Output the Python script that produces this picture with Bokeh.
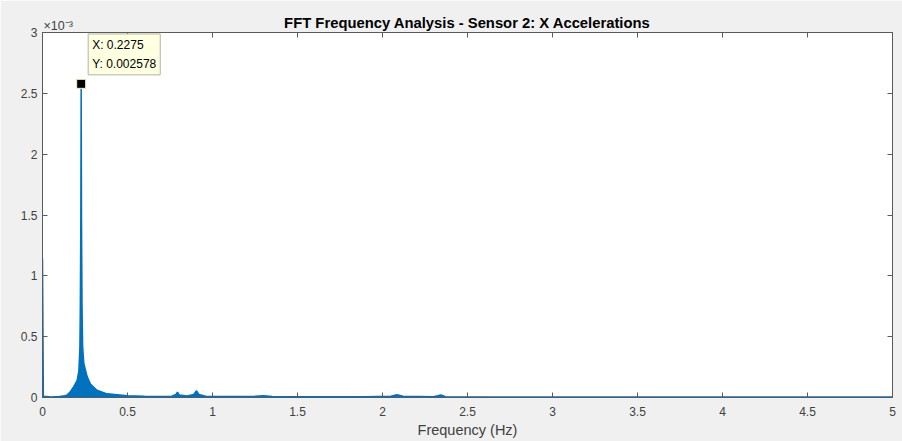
from bokeh.plotting import figure
from bokeh.models import Range1d, LinearAxis, FixedTicker, CustomJSTickFormatter, Label
from bokeh.embed import file_html
from bokeh.resources import INLINE

# Single-sided amplitude spectrum envelope (Hz, g) for sensor 2, X axis
freq_hz = [0.0, 0.005, 0.05, 0.10, 0.13, 0.145, 0.165, 0.184, 0.204, 0.214,
           0.220, 0.2225, 0.2255, 0.2275, 0.2295, 0.2325, 0.236, 0.243, 0.263,
           0.282, 0.32, 0.38, 0.50, 0.60, 0.70, 0.76, 0.785, 0.794, 0.805,
           0.85, 0.89, 0.906, 0.92, 0.96, 1.10, 1.25, 1.30, 1.35, 1.60, 1.90,
           2.05, 2.085, 2.12, 2.30, 2.345, 2.37, 2.70, 3.00, 4.00, 5.00]
amplitude = [0.00114, 0.00001, 0.000005, 0.000008, 0.000015, 0.00002, 0.00005,
             0.00009, 0.00014, 0.00022, 0.00041, 0.00075, 0.0015, 0.002578,
             0.00145, 0.00075, 0.00042, 0.00028, 0.00017, 0.00011, 0.00006,
             0.00003, 0.000015, 0.00001, 0.000008, 0.00001, 0.000025, 0.000045,
             0.00002, 0.000012, 0.000025, 0.000055, 0.000025, 0.00001, 0.000008,
             0.00001, 0.000014, 0.000008, 0.000006, 0.000006, 0.00001, 0.000022,
             0.00001, 0.000006, 0.00002, 0.000007, 0.000005, 0.000005, 0.000005,
             0.000005]

# Data tip on the dominant peak
peak_freq = 0.2275
peak_amp = 0.002578

x_ticks = [0, 0.5, 1, 1.5, 2, 2.5, 3, 3.5, 4, 4.5, 5]
y_ticks = [0, 0.0005, 0.001, 0.0015, 0.002, 0.0025, 0.003]

TITLE = "FFT Frequency Analysis - Sensor 2: X Accelerations"
FONT = "Liberation Sans"
AXIS_GREY = "#5a5a5a"
TEXT_GREY = "#404040"
BLUE = "#0072bd"
PLOT_W = 850  # frame width in pixels

p = figure(width=902, height=441, output_backend="svg", toolbar_location=None,
           title=None,
           x_range=Range1d(0, 5), y_range=Range1d(0, 0.003),
           min_border_left=42, min_border_right=10,
           min_border_top=32, min_border_bottom=44)
p.background_fill_color = "white"
p.border_fill_color = "#f0f0f0"
p.outline_line_color = AXIS_GREY
p.outline_line_width = 1
p.xgrid.visible = False
p.ygrid.visible = False

xfmt = CustomJSTickFormatter(code="return String(tick);")
yfmt = CustomJSTickFormatter(code="return String(Math.round(tick * 1e4) / 10);")
blank_fmt = CustomJSTickFormatter(code="return '';")


def style_axis(ax, ticks, fmt):
    ax.ticker = FixedTicker(ticks=ticks)
    ax.formatter = fmt
    ax.major_tick_in = 5
    ax.major_tick_out = 0
    ax.minor_tick_line_color = None
    ax.major_tick_line_color = AXIS_GREY
    ax.axis_line_color = AXIS_GREY
    ax.major_label_text_font = FONT
    ax.major_label_text_font_size = "12px"
    ax.major_label_text_color = TEXT_GREY


style_axis(p.xaxis[0], x_ticks, xfmt)
p.xaxis[0].major_label_standoff = 9
p.xaxis[0].axis_label = "Frequency (Hz)"
p.xaxis[0].axis_label_text_font = FONT
p.xaxis[0].axis_label_text_font_size = "14.5px"
p.xaxis[0].axis_label_text_font_style = "normal"
p.xaxis[0].axis_label_text_color = TEXT_GREY
p.xaxis[0].axis_label_standoff = 3

style_axis(p.yaxis[0], y_ticks, yfmt)
p.yaxis[0].major_label_standoff = 5

# Mirrored tick marks on the top and right edges of the box
top_axis = LinearAxis()
style_axis(top_axis, x_ticks, blank_fmt)
top_axis.major_label_standoff = 0
p.add_layout(top_axis, "above")
right_axis = LinearAxis()
style_axis(right_axis, y_ticks, blank_fmt)
right_axis.major_label_standoff = 0
p.add_layout(right_axis, "right")

# Spectrum: filled under the envelope plus the trace itself
p.varea(x=freq_hz, y1=0, y2=amplitude, fill_color=BLUE, fill_alpha=1.0)
p.line(freq_hz, amplitude, line_color=BLUE, line_width=1.5)

# Exponent marker for the y axis, in the top border
p.add_layout(Label(x=1, y=0, x_units="screen", y_units="screen",
                   text="×10⁻³",
                   text_font=FONT, text_font_size="12.5px", text_color=TEXT_GREY,
                   text_baseline="bottom"), "above")

# Bold title centred over the frame, on the same row as the exponent
p.add_layout(Label(x=PLOT_W / 2, y=0, y_offset=-12,
                   x_units="screen", y_units="screen",
                   text=TITLE, text_align="center", text_baseline="bottom",
                   text_font=FONT, text_font_size="14.8px",
                   text_font_style="bold", text_color="black"), "above")

# Data tip
p.scatter([peak_freq], [peak_amp], marker="square", size=9,
          fill_color="black", line_color="#f5f0c8", line_width=1)
p.add_layout(Label(x=peak_freq, y=peak_amp, x_offset=7, y_offset=9,
                   text=f"X: {peak_freq:g}\nY: {peak_amp:g}",
                   text_font=FONT, text_font_size="12px", text_color="black",
                   text_line_height=1.35,
                   text_baseline="bottom", text_align="left",
                   background_fill_color="#ffffe1", border_line_color="#b4b4a0",
                   border_line_width=1, padding=4))

open("out.html", "w").write(file_html(p, INLINE))
